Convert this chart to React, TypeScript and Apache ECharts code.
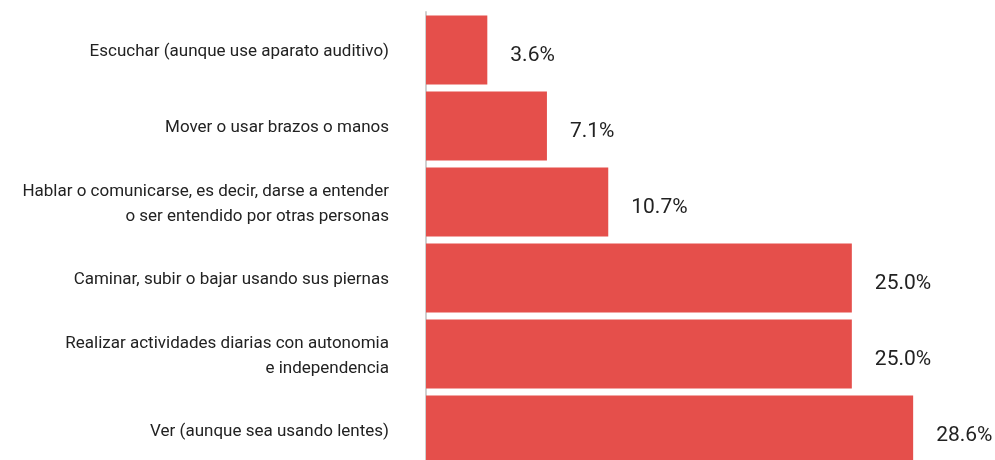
import React, { useEffect, useRef } from "react";
import * as echarts from "echarts";

const categories = [
  "Escuchar (aunque use aparato auditivo)",
  "Mover o usar brazos o manos",
  "Hablar o comunicarse, es decir, darse a entender\no ser entendido por otras personas",
  "Caminar, subir o bajar usando sus piernas",
  "Realizar actividades diarias con autonomia\ne independencia",
  "Ver (aunque sea usando lentes)",
];
const values = [3.6, 7.1, 10.7, 25.0, 25.0, 28.6];

export default function App() {
  const ref = useRef<HTMLDivElement>(null);
  useEffect(() => {
    if (!ref.current) return;
    const chart = echarts.init(ref.current, null, { renderer: "svg" });
    chart.setOption({
      animation: false,
      grid: { left: 426, right: 58, top: 12, bottom: 2 },
      xAxis: { type: "value", min: 0, max: 30, show: false },
      yAxis: {
        type: "category",
        inverse: true,
        data: categories,
        axisLine: { show: true, lineStyle: { color: "#d0d0d0", width: 2 } },
        axisTick: { show: false },
        axisLabel: {
          margin: 37,
          fontFamily: "Roboto",
          fontSize: 17,
          color: "#222",
          lineHeight: 25,
          align: "right",
        },
      },
      series: [
        {
          type: "bar",
          data: values,
          barCategoryGap: "9%",
          itemStyle: { color: "#E54F4B" },
          label: {
            show: true,
            position: "right",
            distance: 23,
            offset: [0, 4],
            formatter: (p: any) => Number(p.value).toFixed(1) + "%",
            fontFamily: "Roboto",
            fontSize: 21,
            color: "#222",
          },
        },
      ],
    });
    return () => chart.dispose();
  }, []);
  return (
    <div
      ref={ref}
      style={{ position: "fixed", left: 0, top: 0, width: 995, height: 470 }}
    />
  );
}
